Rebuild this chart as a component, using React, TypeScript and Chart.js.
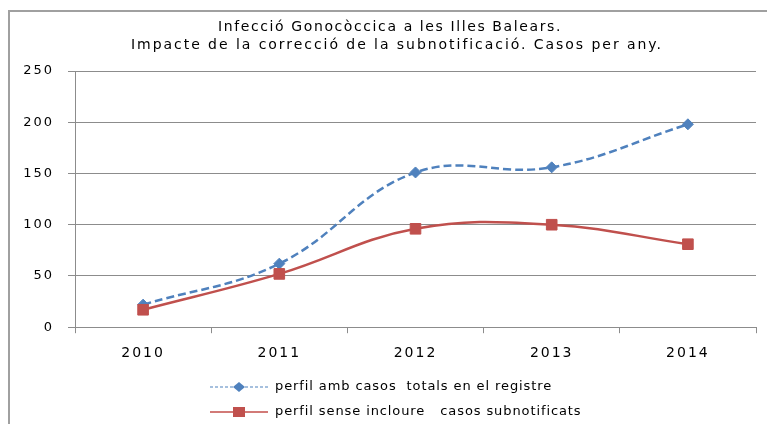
import React, { useEffect, useRef } from 'react';
import { Chart, registerables } from 'chart.js';

Chart.register(...registerables);

const years = ['2010', '2011', '2012', '2013', '2014'];
const totalCases = [22, 62, 151, 156, 198];
const casesWithoutUnderreporting = [17, 52, 96, 100, 81];
const yTicks = [0, 50, 100, 150, 200, 250];
const titleLines = [
  'Infecció Gonocòccica a les Illes Balears.',
  'Impacte de la correcció de la subnotificació. Casos per any.',
];
const seriesLabels = [
  'perfil amb casos  totals en el registre',
  'perfil sense incloure   casos subnotificats',
];

const BLUE = '#4f81bd';
const RED = '#c0504d';
const GRID = '#8c8c8c';

const framePlugin = {
  id: 'frameTitleLegend',
  beforeUpdate(chart: any) {
    chart.ctx.letterSpacing = '2px';
  },
  afterUpdate(chart: any) {
    chart.ctx.letterSpacing = '2px';
  },
  beforeDraw(chart: any) {
    const ctx = chart.ctx;
    ctx.letterSpacing = '2px';
    ctx.save();
    ctx.strokeStyle = '#a0a0a0';
    ctx.lineWidth = 2;
    ctx.beginPath();
    ctx.moveTo(9, 440);
    ctx.lineTo(9, 11);
    ctx.lineTo(767, 11);
    ctx.stroke();
    ctx.restore();
  },
  afterDraw(chart: any) {
    const ctx = chart.ctx;
    ctx.save();
    // title
    ctx.font = '14px "DejaVu Sans"';
    ctx.textAlign = 'center';
    ctx.textBaseline = 'middle';
    ctx.fillStyle = '#000';
    ctx.letterSpacing = '1.6px';
    ctx.fillText(titleLines[0], 390, 27);
    ctx.letterSpacing = '1.95px';
    ctx.fillText(titleLines[1], 397, 45);

    // legend
    ctx.textAlign = 'left';
    ctx.letterSpacing = '0.9px';
    ctx.font = '13px "DejaVu Sans"';
    const x0 = 210, x1 = 268, xm = 239, tx = 275;
    const y1 = 387, y2 = 412;
    ctx.strokeStyle = BLUE;
    ctx.lineWidth = 1.2;
    ctx.setLineDash([3, 2]);
    ctx.beginPath();
    ctx.moveTo(x0, y1);
    ctx.lineTo(x1, y1);
    ctx.stroke();
    ctx.setLineDash([]);
    ctx.fillStyle = BLUE;
    ctx.beginPath();
    ctx.moveTo(xm - 6, y1);
    ctx.lineTo(xm, y1 - 5);
    ctx.lineTo(xm + 6, y1);
    ctx.lineTo(xm, y1 + 5);
    ctx.closePath();
    ctx.fill();
    ctx.fillStyle = '#000';
    ctx.fillText(seriesLabels[0], tx, y1);

    ctx.strokeStyle = '#d27a77';
    ctx.lineWidth = 2;
    ctx.beginPath();
    ctx.moveTo(x0, y2);
    ctx.lineTo(x1, y2);
    ctx.stroke();
    ctx.fillStyle = RED;
    ctx.fillRect(xm - 6, y2 - 5, 12, 10);
    ctx.fillStyle = '#000';
    ctx.fillText(seriesLabels[1], tx, y2);
    ctx.restore();
  },
};

export default function App() {
  const ref = useRef<HTMLCanvasElement | null>(null);

  useEffect(() => {
    if (!ref.current) return;
    const chart = new Chart(ref.current, {
      type: 'line',
      data: {
        labels: years,
        datasets: [
          {
            label: seriesLabels[0],
            data: totalCases,
            borderColor: BLUE,
            backgroundColor: BLUE,
            borderWidth: 2.5,
            borderDash: [8, 4],
            tension: 0.4,
            pointStyle: 'rectRot',
            pointRadius: 5.5,
            pointBorderWidth: 1,
            pointBorderColor: BLUE,
            pointBackgroundColor: BLUE,
            order: 1,
          },
          {
            label: seriesLabels[1],
            data: casesWithoutUnderreporting,
            borderColor: RED,
            backgroundColor: RED,
            borderWidth: 2.5,
            tension: 0.4,
            pointStyle: 'rect',
            pointRadius: 7.5,
            pointBorderWidth: 1,
            pointBorderColor: RED,
            pointBackgroundColor: RED,
            order: 0,
          },
        ],
      },
      options: {
        responsive: false,
        animation: false,
        events: [],
        layout: { padding: { left: 16, right: 11, top: 71, bottom: 50 } },
        plugins: {
          legend: { display: false },
          tooltip: { enabled: false },
          title: { display: false },
        },
        scales: {
          x: {
            offset: true,
            grid: { offset: true, drawOnChartArea: false, drawTicks: true, tickLength: 6, color: GRID },
            border: { color: GRID },
            ticks: { color: '#000', font: { family: 'DejaVu Sans', size: 14 }, padding: 12 },
          },
          y: {
            min: 0,
            max: 250,
            afterBuildTicks: (s: any) => {
              s.ticks = yTicks.map((v) => ({ value: v }));
            },
            afterFit: (s: any) => {
              s.width = 59;
            },
            grid: { color: GRID, tickLength: 7 },
            border: { color: GRID },
            ticks: { color: '#000', font: { family: 'DejaVu Sans', size: 13 }, padding: 14 },
          },
        },
      },
      plugins: [framePlugin],
    });
    return () => chart.destroy();
  }, []);

  return (
    <div style={{ position: 'fixed', left: 0, top: 0, width: 767, height: 424, background: '#fff' }}>
      <canvas ref={ref} width={767} height={424} style={{ display: 'block' }} />
    </div>
  );
}
